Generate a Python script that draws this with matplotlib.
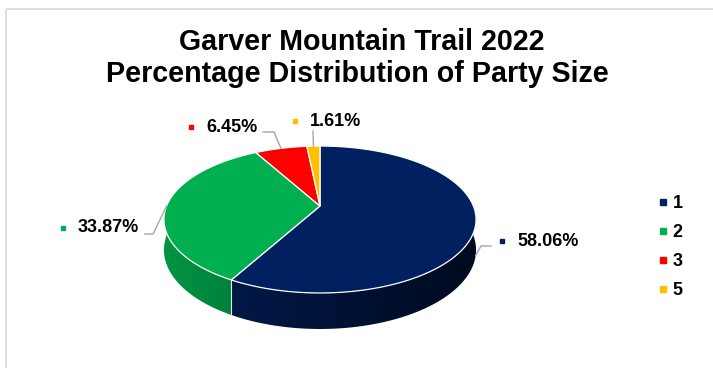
import numpy as np
import matplotlib.pyplot as plt
from matplotlib.patches import Polygon, Rectangle
from matplotlib.lines import Line2D

plt.rcParams['font.family'] = ['Liberation Sans', 'DejaVu Sans']

# Party size counts for the trail (62 parties in total)
party_sizes = ['1', '2', '3', '5']
counts = [36, 21, 4, 1]
colors = ['#002060', '#00B050', '#FF0000', '#FFC000']
title_lines = ['Garver Mountain Trail 2022', 'Percentage Distribution of Party Size']

counts = np.array(counts, dtype=float)
pct = counts / counts.sum() * 100
bounds = np.concatenate([[0], np.cumsum(counts) / counts.sum() * 360])

# pie geometry (pixels): apex, radii, perspective and thickness
CX, CY = 320, 206
RX, RY = 153.4, 71.0
P = 0.1837
DEPTH = 29.4


def project(theta, drop=0.0):
    # theta in degrees, clockwise from 12 o'clock
    t = np.radians(theta)
    dx, dy = np.sin(t), np.cos(t)
    w = 1 + P * dy
    return CX + RX * dx / w, CY - RY * dy / w + drop / w


fig = plt.figure(figsize=(7.13, 3.68), dpi=100)
ax = fig.add_axes([0, 0, 1, 1])
ax.set_xlim(0, 713)
ax.set_ylim(368, 0)
ax.axis('off')

# chart area border
ax.add_patch(Rectangle((5.5, 8.5), 720, 400, fill=False, edgecolor='#D9D9D9', lw=1.2))

# outer wall of the front half, shaded darker to the right
grad_x = np.linspace(CX - 160, CX + 160, 200)
shade = np.interp(grad_x, [CX - 160, CX + 160], [0.85, 0.33])
for i, c in enumerate(colors):
    lo, hi = max(bounds[i], 90), min(bounds[i + 1], 270)
    if lo >= hi:
        continue
    th = np.linspace(lo, hi, 80)
    tx, ty = project(th)
    bx, by = project(th, DEPTH)
    wall = Polygon(np.column_stack([np.r_[tx, bx[::-1]], np.r_[ty, by[::-1]]]),
                   closed=True, facecolor='none', edgecolor='none')
    ax.add_patch(wall)
    rgb = np.array(plt.matplotlib.colors.to_rgb(c))
    img = (rgb[None, None, :] * shade[None, :, None]).clip(0, 1)
    im = ax.imshow(img, extent=(grad_x[0], grad_x[-1], 340, 140), aspect='auto', zorder=1)
    im.set_clip_path(wall)
    # seam where the wall of one slice meets the next
    if lo == bounds[i] and lo > 90:
        sx, sy = project(lo)
        ex, ey = project(lo, DEPTH)
        ax.plot([sx, ex], [sy, ey], color='#E8E8E8', lw=0.8, zorder=2)

# top face
for i, c in enumerate(colors):
    th = np.linspace(bounds[i], bounds[i + 1], 120)
    ax_x, ax_y = project(th)
    pts = np.column_stack([np.r_[CX, ax_x], np.r_[CY, ax_y]])
    ax.add_patch(Polygon(pts, closed=True, facecolor=c, edgecolor='white', lw=0.9, zorder=3))

ax.set_xlim(0, 713)
ax.set_ylim(368, 0)

# data labels with leader lines
label_pos = [(517, 241), (78, 228), (206, 127), (310, 121)]
elbows = [[(481, 246), (491, 246)], [(153, 234), (145, 234)],
          [(274, 132), (263, 132)], [(313, 131)]]
for i, c in enumerate(colors):
    mid = (bounds[i] + bounds[i + 1]) / 2
    drop = DEPTH if np.cos(np.radians(mid)) < -0.05 else 0
    sx, sy = project(mid, drop)
    path = [(sx, sy)] + elbows[i]
    ax.plot([p[0] for p in path], [p[1] for p in path], color='#A6A6A6', lw=1, zorder=4)
    lx, ly = label_pos[i]
    ax.plot(lx - 15, ly, marker='s', markersize=3.5, color=c, zorder=5)
    ax.text(lx, ly, f'{pct[i]:.2f}%', fontsize=13, fontweight='bold',
            ha='left', va='center', zorder=5)

# title
ax.text(362, 50, title_lines[0], fontsize=20.6, fontweight='bold', ha='center', va='baseline')
ax.text(357, 82, title_lines[1], fontsize=20.6, fontweight='bold', ha='center', va='baseline')

# legend
handles = [Line2D([], [], marker='s', linestyle='none', markersize=4, color=c) for c in colors]
leg = ax.legend(handles, party_sizes, loc='center left', bbox_to_anchor=(640 / 713, 1 - 247 / 368),
                frameon=False, prop={'weight': 'bold', 'size': 13}, handlelength=0.8,
                handletextpad=0.1, labelspacing=0.66)

fig.savefig('out.png', dpi=100)
